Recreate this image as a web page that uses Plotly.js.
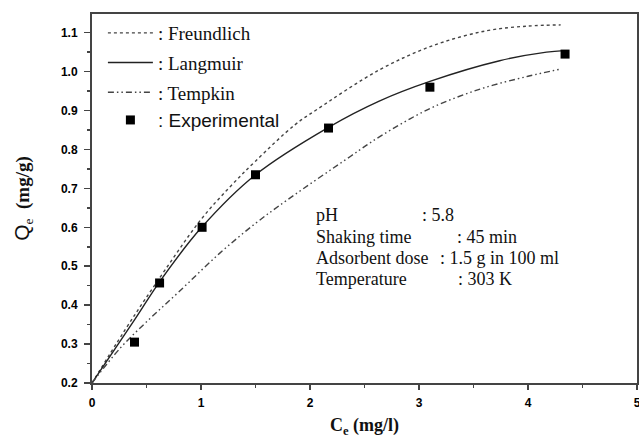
<!DOCTYPE html>
<html>
<head>
<meta charset="utf-8">
<script src="https://cdn.plot.ly/plotly-3.0.1.min.js"></script>
<style>html,body{margin:0;padding:0;background:#fff;}#chart{width:639px;height:438px;}</style>
</head>
<body>
<div id="chart"></div>
<script>
// Experimental data
const expCe = [0.39, 0.62, 1.01, 1.50, 2.17, 3.10, 4.34];
const expQe = [0.305, 0.457, 0.600, 0.735, 0.855, 0.960, 1.045];

// Model curves
const freundCe = [0, 0.30, 0.56, 1.00, 1.27, 1.50, 1.86, 2.06, 2.64, 3.13, 3.62, 4.00, 4.30];
const freundQe = [0.20, 0.335, 0.445, 0.62, 0.705, 0.77, 0.863, 0.902, 1.005, 1.067, 1.105, 1.117, 1.120];

const langCe = [0, 0.39, 0.62, 1.00, 1.50, 2.17, 2.64, 3.10, 3.74, 4.17, 4.33];
const langQe = [0.20, 0.362, 0.46, 0.598, 0.735, 0.857, 0.925, 0.975, 1.028, 1.050, 1.054];

const tempCe = [0, 0.26, 0.53, 0.80, 1.17, 1.50, 1.79, 2.37, 2.64, 3.10, 3.56, 4.00, 4.29];
const tempQe = [0.20, 0.29, 0.365, 0.435, 0.533, 0.61, 0.67, 0.782, 0.833, 0.905, 0.955, 0.988, 1.006];

const seriesNames = [': Freundlich', ': Langmuir', ': Tempkin', '<span style="font-family:Liberation Sans, Arial">: Experimental</span>'];

const infoLabels = ['pH', 'Shaking time', 'Adsorbent dose', 'Temperature'];
const infoValues = [': 5.8', ': 45 min', ': 1.5 g in 100 ml', ': 303 K'];

const traces = [
  {x: freundCe, y: freundQe, mode: 'lines', name: seriesNames[0], legendgroup: 'a',
   line: {color: '#444', width: 1.4, dash: 'dot', shape: 'spline'}},
  {x: langCe, y: langQe, mode: 'lines', name: seriesNames[1], legendgroup: 'b',
   line: {color: '#222', width: 1.4, shape: 'spline'}},
  {x: tempCe, y: tempQe, mode: 'lines', name: seriesNames[2], legendgroup: 'c',
   line: {color: '#444', width: 1.4, dash: '6px,3px,1.5px,3px,1.5px,3px', shape: 'spline'}},
  {x: expCe, y: expQe, mode: 'markers', name: seriesNames[3], legendgroup: 'c',
   marker: {symbol: 'square', size: 9, color: '#000'}}
];

const labelX = [314, 314, 314, 314];
const valueX = [420, 455, 438, 456];
const rowY = [215, 237, 258, 279];
const annotations = [];
for (let i = 0; i < infoLabels.length; i++) {
  annotations.push({xref: 'paper', yref: 'paper', x: (labelX[i] - 92) / 545, y: (383 - rowY[i]) / 369,
    xanchor: 'left', yanchor: 'middle', text: infoLabels[i], showarrow: false,
    font: {family: 'Liberation Serif, Times New Roman', size: 18, color: '#111'}});
  annotations.push({xref: 'paper', yref: 'paper', x: (valueX[i] - 92) / 545, y: (383 - rowY[i]) / 369,
    xanchor: 'left', yanchor: 'middle', text: infoValues[i], showarrow: false,
    font: {family: 'Liberation Serif, Times New Roman', size: 18, color: '#111'}});
}

const tickFont = {family: 'Liberation Sans, Arial', size: 12, color: '#000', weight: 'bold'};

const layout = {
  width: 639, height: 438,
  margin: {l: 92, r: 2, t: 14, b: 55},
  paper_bgcolor: '#fff', plot_bgcolor: '#fff',
  font: {family: 'Liberation Serif, Times New Roman', color: '#111'},
  showlegend: true,
  legend: {x: 0.02, y: 1.0, xanchor: 'left', yanchor: 'top', bgcolor: 'rgba(0,0,0,0)',
    traceorder: 'grouped', tracegroupgap: 2, itemwidth: 45,
    font: {family: 'Liberation Serif, Times New Roman', size: 19, color: '#111'}},
  xaxis: {range: [0, 5], dtick: 1, tick0: 0, showgrid: false, zeroline: false,
    showline: true, linecolor: '#444', linewidth: 2, mirror: true,
    ticks: 'outside', ticklen: 5, tickcolor: '#444', tickwidth: 1.5, ticklabelstandoff: 3,
    ticklabeloverflow: 'allow',
    minor: {dtick: 0.5, ticks: 'outside', ticklen: 3, tickcolor: '#444', showgrid: false},
    tickfont: tickFont,
    title: {text: '<b>C</b><sub><b>e</b></sub><b> (mg/l)</b>', font: {family: 'Liberation Serif, Times New Roman', size: 18, color: '#111'}, standoff: 10}},
  yaxis: {range: [0.2, 1.148], dtick: 0.1, tick0: 0.2, tickformat: '.1f', showgrid: false, zeroline: false,
    showline: true, linecolor: '#444', linewidth: 2, mirror: true,
    ticks: 'outside', ticklen: 6, tickcolor: '#444', tickwidth: 1.5, ticklabelstandoff: 4,
    minor: {dtick: 0.05, ticks: 'outside', ticklen: 3, tickcolor: '#444', showgrid: false},
    tickfont: tickFont,
    title: {text: '<span style="font-family:Liberation Sans, Arial;font-size:21px">Q</span><sub>e</sub>  <b>(mg/g)</b>', font: {family: 'Liberation Serif, Times New Roman', size: 19, color: '#111'}, standoff: 26}},
  annotations: annotations
};

Plotly.newPlot('chart', traces, layout, {displayModeBar: false, staticPlot: true});
</script>
</body>
</html>
